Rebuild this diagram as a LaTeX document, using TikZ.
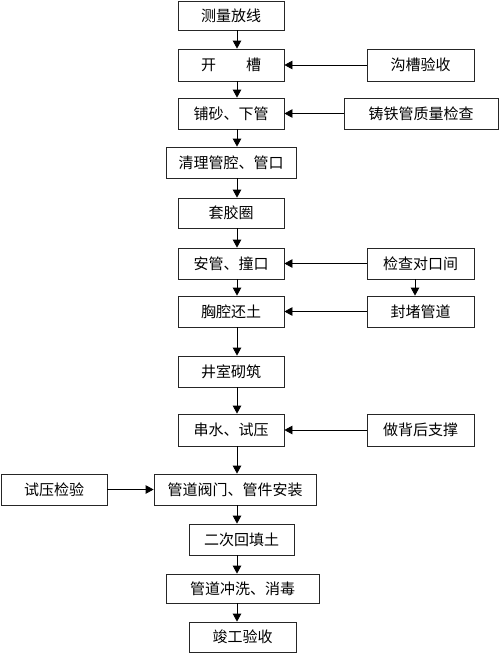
\documentclass[tikz,border=0pt]{standalone}
\usepackage{fontspec}
\setmainfont{Noto Sans CJK SC}
\usetikzlibrary{arrows.meta}
\begin{document}
\begin{tikzpicture}[x=1pt,y=-1pt,
  box/.style={draw=black!85,line width=0.8pt,inner sep=0pt,
    font=\fontsize{15}{17}\selectfont},
  arr/.style={draw=black,line width=0.8pt,-{Triangle[length=8pt,width=8.5pt]}}]
\useasboundingbox[fill=white] (0,0) rectangle (500,653);
\coordinate (cx) at (237,0);
\coordinate (rx) at (415,0);
% main column
\node[box,minimum width=106,minimum height=29] (a1) at (231,15.5) {测量放线};
\node[box,minimum width=106,minimum height=32] (a2) at (231,65) {开\hspace{2em}槽};
\node[box,minimum width=106,minimum height=31] (a3) at (231,113.5) {铺砂、下管};
\node[box,minimum width=130,minimum height=31] (a4) at (231,162.5) {清理管腔、管口};
\node[box,minimum width=106,minimum height=30] (a5) at (231,213) {套胶圈};
\node[box,minimum width=106,minimum height=31] (a6) at (231,263.5) {安管、撞口};
\node[box,minimum width=106,minimum height=31] (a7) at (231,311.5) {胸腔还土};
\node[box,minimum width=106,minimum height=31] (a8) at (231,371.5) {井室砌筑};
\node[box,minimum width=106,minimum height=32] (a9) at (231,430) {串水、试压};
\node[box,minimum width=162,minimum height=31] (a10) at (235,489.5) {管道阀门、管件安装};
\node[box,minimum width=105,minimum height=31] (a11) at (241.5,539.5) {二次回填土};
\node[box,minimum width=153,minimum height=29] (a12) at (242.5,588.5) {管道冲洗、消毒};
\node[box,minimum width=107,minimum height=30] (a13) at (242.5,637) {竣工验收};
% side boxes
\node[box,minimum width=107,minimum height=32] (b1) at (420.5,65) {沟槽验收};
\node[box,minimum width=154,minimum height=31] (b2) at (421,113.5) {铸铁管质量检查};
\node[box,minimum width=107,minimum height=31] (b3) at (420.5,263.5) {检查对口间};
\node[box,minimum width=107,minimum height=31] (b4) at (420.5,311.5) {封堵管道};
\node[box,minimum width=107,minimum height=32] (b5) at (420.5,430) {做背后支撑};
\node[box,minimum width=106,minimum height=31] (c1) at (54,489.5) {试压检验};
% vertical arrows
\foreach \s/\t in {a1/a2,a2/a3,a3/a4,a4/a5,a5/a6,a6/a7,a7/a8,a8/a9,a9/a10,a10/a11,a11/a12,a12/a13}
  \draw[arr] (\s.south -| cx) -- (\t.north -| cx);
\draw[arr] (b3.south -| rx) -- (b4.north -| rx);
% horizontal arrows
\draw[arr] (b1.west) -- (a2.east);
\draw[arr] (b2.west) -- (a3.east);
\draw[arr] (b3.west) -- (a6.east);
\draw[arr] (b4.west) -- (a7.east);
\draw[arr] (b5.west) -- (a9.east);
\draw[arr] (c1.east) -- (a10.west);
\end{tikzpicture}
\end{document}
